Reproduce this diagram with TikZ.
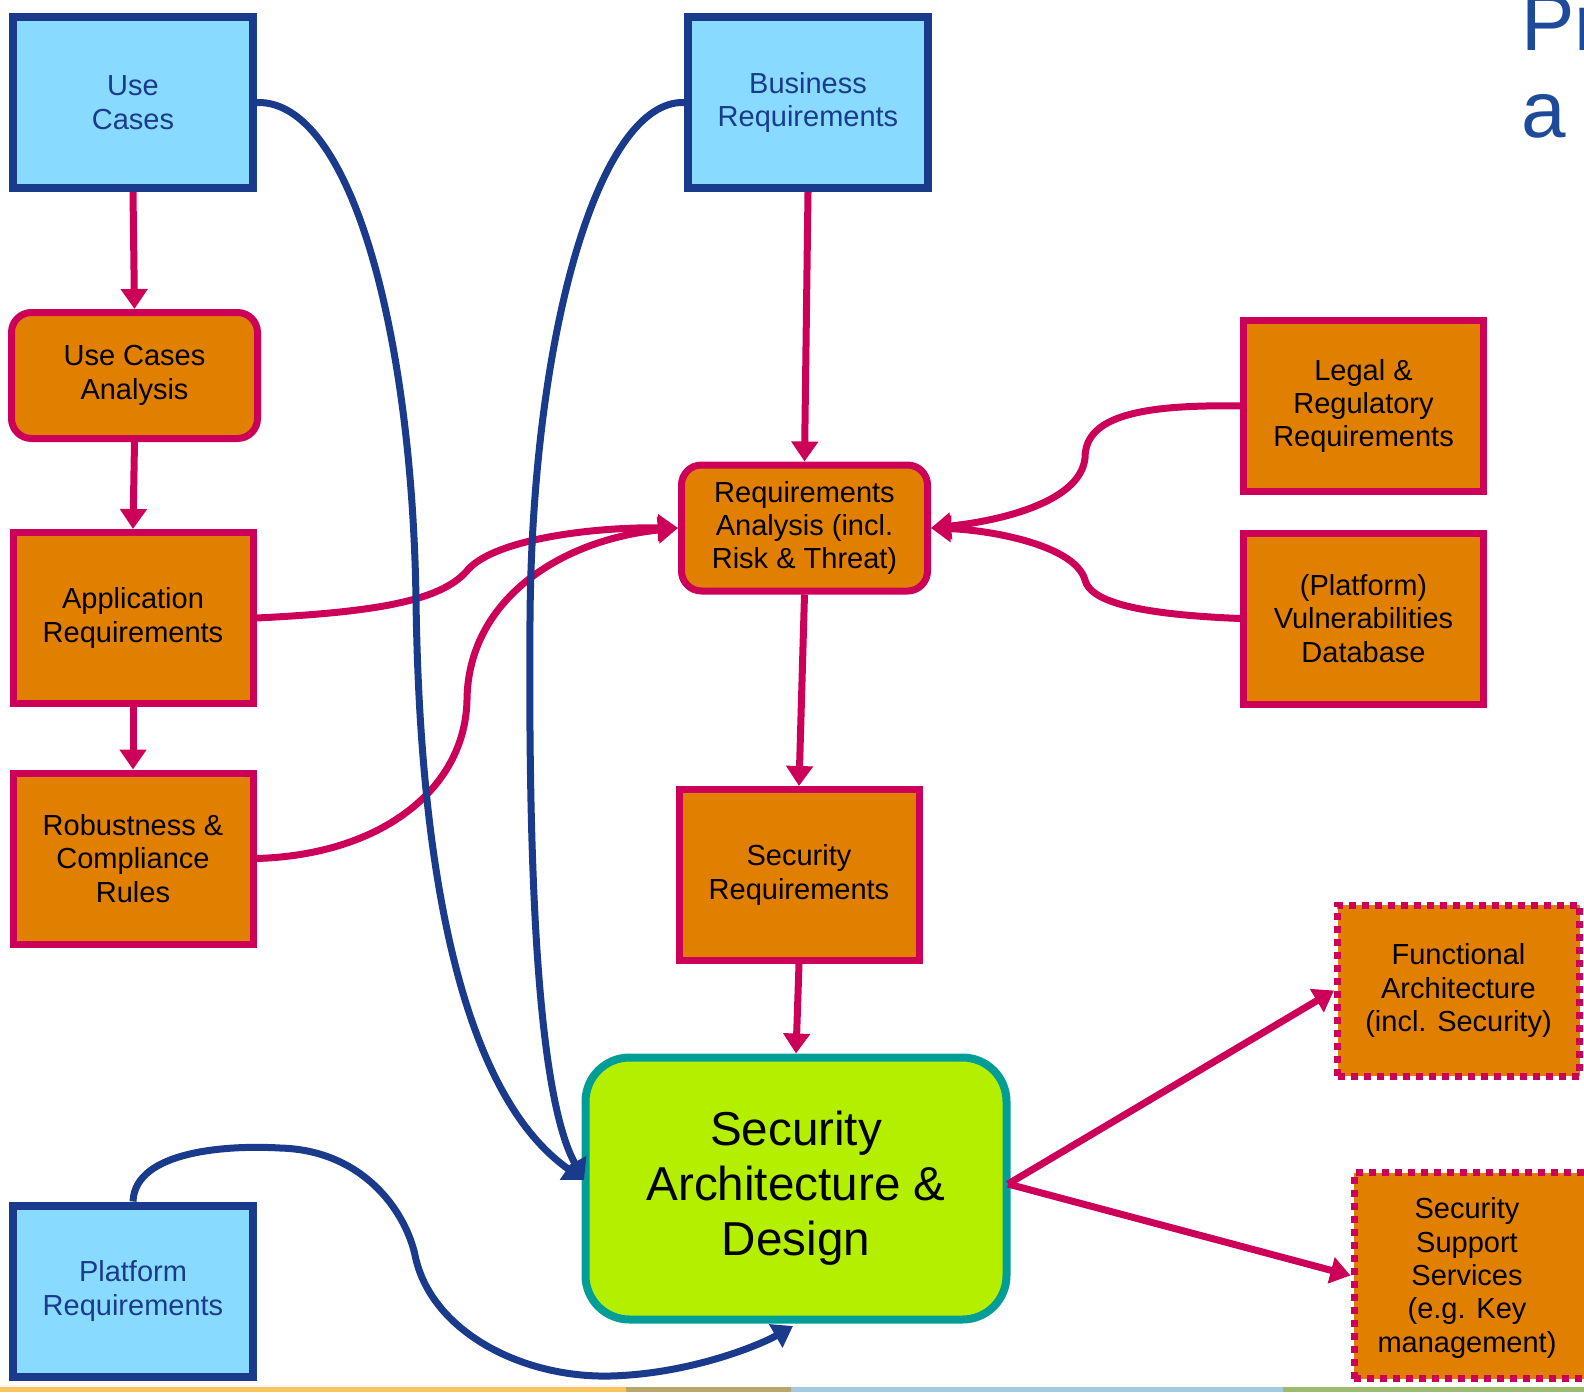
\documentclass[tikz,border=0pt]{standalone}
\usepackage{fontspec}
\setmainfont{Liberation Sans}
\usetikzlibrary{arrows.meta}
\definecolor{navy}{HTML}{1A3B8C}
\definecolor{titleblue}{HTML}{1E4A9A}
\definecolor{lblue}{HTML}{89DAFF}
\definecolor{mag}{HTML}{CC0058}
\definecolor{orng}{HTML}{E17F00}
\definecolor{lime}{HTML}{B5EF00}
\definecolor{teal}{HTML}{009E96}
\definecolor{stripA}{HTML}{F9C55A}
\definecolor{stripB}{HTML}{B9A66A}
\definecolor{stripC}{HTML}{A6C9E2}
\definecolor{stripD}{HTML}{9DBB6D}
\tikzset{
  base/.style={align=center, inner sep=0pt, font=\fontsize{14.5}{16.7}\selectfont},
  bluebox/.style={base, draw=navy, line width=4pt, fill=lblue, text=navy,
    minimum width=120pt, minimum height=85.5pt},
  orbox/.style={base, draw=mag, line width=3.5pt, fill=orng, text=black,
    minimum width=120pt, minimum height=85.5pt},
  rorbox/.style={orbox, rounded corners=10pt, minimum width=123pt, minimum height=63pt},
  dotbox/.style={orbox, line width=3.5pt, dash pattern=on 3.5pt off 3pt},
  flow/.style={draw=mag, line width=3.5pt, -{Triangle[width=13pt,length=10pt]}},
  link/.style={draw=navy, line width=3.5pt, -{Triangle[width=13pt,length=10pt]}},
}
\begin{document}
\begin{tikzpicture}[x=0.5pt,y=-0.5pt]
\useasboundingbox (0,0) rectangle (1584,1392);

% heading fragment at the top right
\node[anchor=base west, inner sep=0pt, text=titleblue, font=\fontsize{40}{40}\selectfont] (hA) at (1521,50) {Pr};
\node[anchor=base west, inner sep=0pt, text=titleblue, font=\fontsize{40}{40}\selectfont] (hB) at (1521,137) {a};

% input boxes
\node[bluebox] (uc) at (133,102.5) {Use\\Cases};
\node[bluebox] (br) at (808,102.5) {Business\\Requirements};
\node[bluebox] (pr) at (133,1291) {Platform\\Requirements};

% analysis chain on the left
\node[rorbox] (uca) at (134.5,375.5) {Use Cases\\Analysis};
\node[orbox] (ar) at (133,618) {Application\\Requirements};
\node[orbox] (rc) at (133,858.5) {Robustness \&\\Compliance\\Rules};

% central column
\node[rorbox] (ra) at (804.5,528) {Requirements\\Analysis (incl.\\Risk \& Threat)};
\node[orbox] (sr) at (799,875) {Security\\Requirements};
\node[base, draw=teal, line width=4pt, fill=lime, rounded corners=22pt,
      minimum width=210.5pt, minimum height=131pt,
      font=\fontsize{23.8}{27.5}\selectfont] (sad) at (796,1188.5)
      {Security\\Architecture \&\\Design};

% external sources on the right
\node[orbox] (lr) at (1363.5,406) {Legal \&\\Regulatory\\Requirements};
\node[orbox] (vd) at (1363.5,618.5) {(Platform)\\Vulnerabilities\\Database};

% outputs
\node[dotbox, minimum width=121pt] (fa) at (1458.5,990.5) {Functional\\Architecture\\(incl. Security)};
\node[dotbox, minimum width=123pt, minimum height=103pt] (sss) at (1477,1275.5) {};
\node[base] (ssst) at (1467,1278) {Security\\Support\\Services\\(e.g. Key\\management)};

% straight flows
\draw[flow] (uc.south) -- (uca.north);
\draw[flow] (uca.south) -- (ar.north);
\draw[flow] (ar.south) -- (rc.north);
\draw[flow] (br.south) -- (ra.north);
\draw[flow] (ra.south) -- (sr.north);
\draw[flow] (sr.south) -- (sad.north);
\coordinate (sadout) at (1008,1184);
\draw[flow] (sadout) -- (fa.west);
\draw[flow] (sadout) -- (sss.west);

% curved flows into the requirements analysis
\draw[flow] (ar.east) .. controls (380,612) and (440,600) .. (466,572)
  .. controls (490,540) and (590,527) .. (ra.west);
\draw[flow] (rc.east) .. controls (380,855) and (465,790) .. (467,700)
  .. controls (468,600) and (560,540) .. (ra.west);
\draw[flow] (lr.west) .. controls (1130,404) and (1085,420) .. (1085,458)
  .. controls (1080,505) and (990,522) .. (ra.east);
\draw[flow] (vd.west) .. controls (1130,614) and (1090,600) .. (1085,580)
  .. controls (1075,545) and (990,530) .. (ra.east);

% blue links into the security architecture
\coordinate (sadin) at (584,1180);
\draw[link] (uc.east) .. controls (350,100) and (412,330) .. (416,600)
  .. controls (420,900) and (470,1100) .. (sadin);
\draw[link] (br.west) .. controls (600,100) and (532,330) .. (530,620)
  .. controls (528,900) and (540,1100) .. (sadin);
\coordinate (sadbot) at (793,1326);
\draw[link] (pr.north) .. controls (135,1150) and (230,1145) .. (280,1148)
  .. controls (362,1150) and (405,1210) .. (415,1255)
  .. controls (430,1330) and (520,1378) .. (610,1376)
  .. controls (690,1374) and (760,1345) .. (sadbot);

% coloured strip along the bottom edge
\fill[stripA] (0,1387) rectangle (626,1392);
\fill[stripB] (626,1387) rectangle (791,1392);
\fill[stripC] (791,1387) rectangle (1283,1392);
\fill[stripD] (1283,1387) rectangle (1584,1392);
\end{tikzpicture}
\end{document}
